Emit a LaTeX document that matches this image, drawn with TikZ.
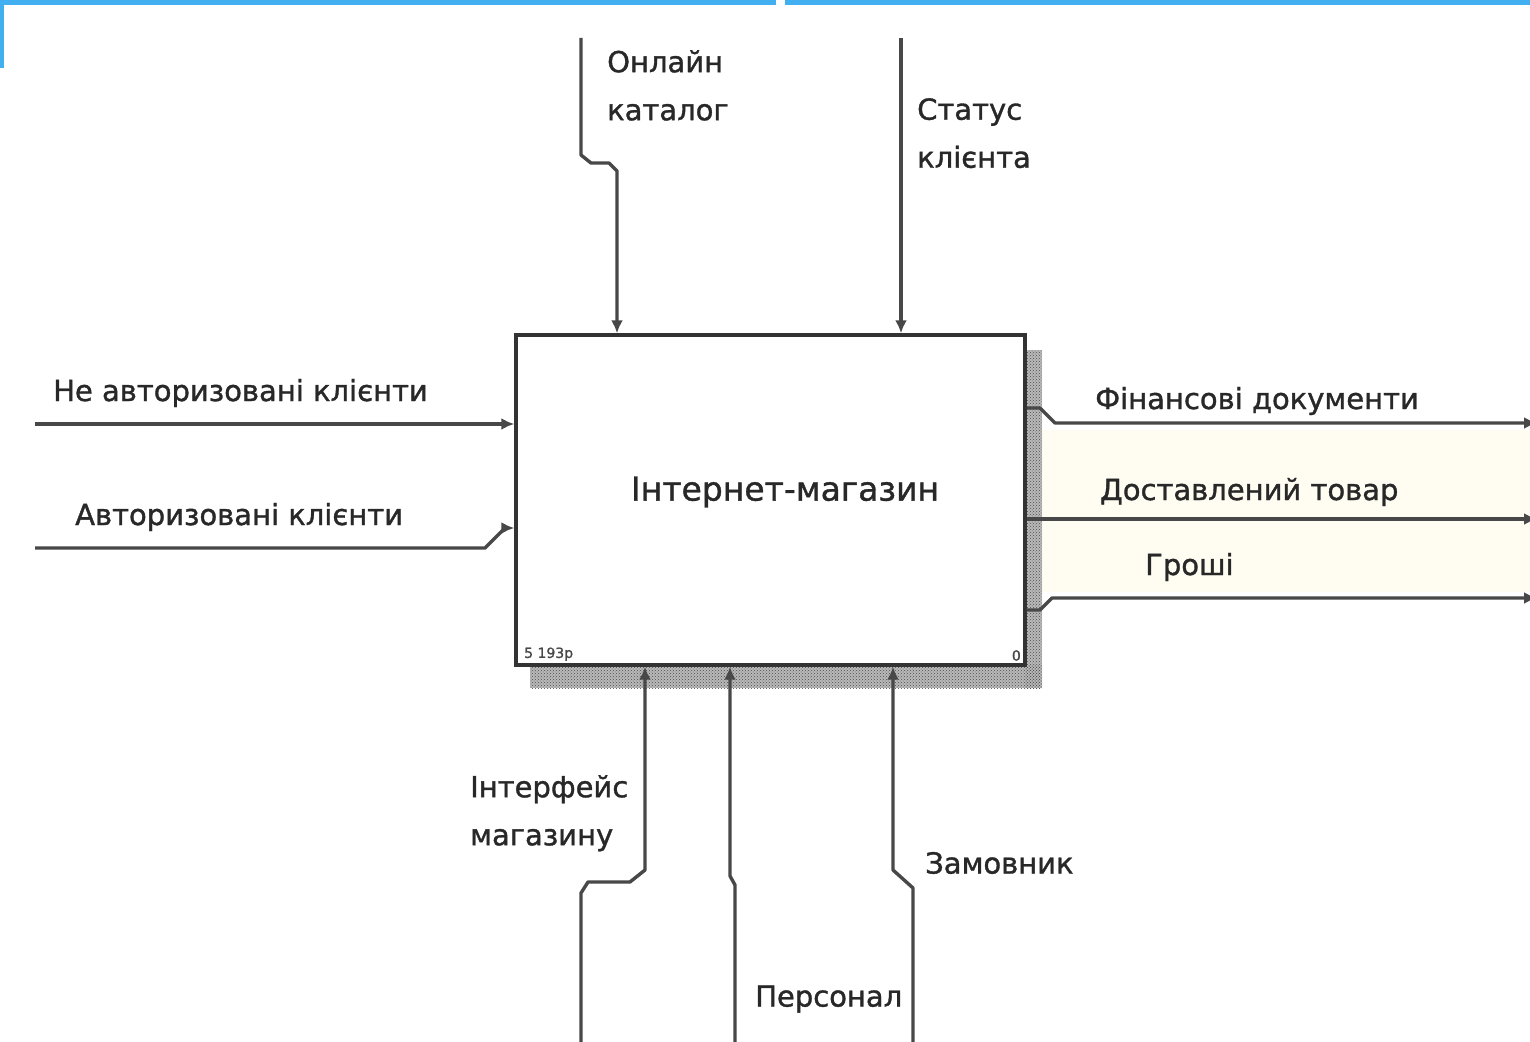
\documentclass[tikz,border=0pt]{standalone}
\usepackage{fontspec}
\setmainfont{DejaVu Sans}[FakeBold=1.2]
\usetikzlibrary{arrows.meta,patterns}
\definecolor{lineC}{RGB}{72,72,72}
\definecolor{txtC}{RGB}{40,40,40}
\definecolor{blueC}{RGB}{66,176,240}
\definecolor{creamC}{RGB}{255,252,242}
\tikzset{
  conn/.style={line width=3.4pt, draw=lineC, line join=round},
  arr/.style={conn, -{Latex[length=13pt,width=12pt]}},
  lbl/.style={font=\fontsize{29}{48}\selectfont, text=txtC, inner sep=0pt, align=left},
  small/.style={font=\fontsize{14}{16}\selectfont, text=lineC, inner sep=0pt},
  shade/.style={fill=gray!55},
  hatch/.style={pattern=crosshatch dots, pattern color=black!70},
}
\begin{document}
\begin{tikzpicture}[x=1pt,y=-1pt]
\useasboundingbox (0,0) rectangle (1530,1041);
\clip (0,0) rectangle (1530,1041);
\fill[white] (0,0) rectangle (1530,1041);
% faint cream areas
\fill[creamC] (1035,430) rectangle (1530,592);
% blue frame
\fill[blueC] (0,0) rectangle (776,5);
\fill[blueC] (785,0) rectangle (1530,5);
\fill[blueC] (0,0) rectangle (4,68);
% shadow
\fill[shade] (1025,350) rectangle (1042,688);
\fill[shade] (530,665) rectangle (1042,688);
\fill[hatch] (1025,350) rectangle (1042,688);
\fill[hatch] (530,665) rectangle (1042,688);
% box
\node[draw=black!80, line width=3.4pt, fill=white, minimum width=509pt, minimum height=330pt, inner sep=0pt] (box) at (770.5,500) {};
\node[font=\fontsize{33}{36}\selectfont, text=txtC] (title) at (785,492) {Інтернет-магазин};
\node[small, anchor=south west] (num) at (524,661) {5 193р};
\node[small, anchor=south east] (nd) at (1021,661) {0};
% coordinates
\coordinate (cA) at (581,38);
\coordinate (cB) at (901,38);
\coordinate (iA) at (35,424);
\coordinate (iB) at (35,548);
\coordinate (oA) at (1537,423);
\coordinate (oB) at (1537,519);
\coordinate (oC) at (1537,598);
\coordinate (mA) at (581,1045);
\coordinate (mB) at (735,1045);
\coordinate (mC) at (913,1045);
% controls
\draw[arr] (cA) -- (581,155) -- (591,163) -- (609,163) -- (617,171) -- (box.north -| 617,0);
\draw[arr] (cB) -- (box.north -| 901,0);
% inputs
\draw[arr] (iA) -- (box.west |- 0,424);
\draw[arr] (iB) -- (485,548) -- (505,528) -- (box.west |- 0,528);
% outputs
\draw[arr] (box.east |- 0,408) -- (1040,408) -- (1055,423) -- (oA);
\draw[arr] (box.east |- 0,519) -- (oB);
\draw[arr] (box.east |- 0,610) -- (1040,610) -- (1052,598) -- (oC);
% mechanisms
\draw[arr] (mA) -- (581,893) -- (588,882) -- (630,882) -- (645,870) -- (box.south -| 645,0);
\draw[arr] (mB) -- (735,885) -- (730,876) -- (box.south -| 730,0);
\draw[arr] (mC) -- (913,888) -- (893,870) -- (box.south -| 893,0);
% labels
\node[lbl, anchor=north west] (lcA) at (607,50) {Онлайн\\каталог};
\node[lbl, anchor=north west] (lcB) at (917,98) {Статус\\клієнта};
\node[lbl, anchor=west] (liA) at (53,393) {Не авторизовані клієнти};
\node[lbl, anchor=west] (liB) at (75,517) {Авторизовані клієнти};
\node[lbl, anchor=west] (loA) at (1095,401) {Фінансові документи};
\node[lbl, anchor=west] (loB) at (1100,492) {Доставлений товар};
\node[lbl, anchor=west] (loC) at (1145,567) {Гроші};
\node[lbl, anchor=north west] (lmA) at (470,775) {Інтерфейс\\магазину};
\node[lbl, anchor=west] (lmB) at (755,999) {Персонал};
\node[lbl, anchor=west] (lmC) at (925,863) {Замовник};
\end{tikzpicture}
\end{document}
